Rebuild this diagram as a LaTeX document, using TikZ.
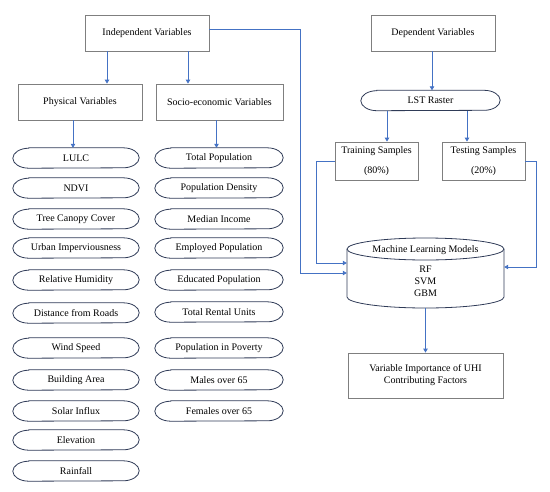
\documentclass[tikz,border=0pt]{standalone}
\usepackage{fontspec}
\setmainfont{Liberation Serif}
\usetikzlibrary{arrows.meta,calc}
\definecolor{boxgray}{HTML}{7F7F7F}
\definecolor{navy}{HTML}{2F3B57}
\definecolor{arrblue}{HTML}{4472C4}
\tikzset{
  box/.style={draw=boxgray, line width=0.8pt, inner sep=1pt, align=center, font=\fontsize{10}{12}\selectfont},
  pill/.style={inner sep=0pt, minimum height=20pt, align=center, font=\fontsize{10}{12}\selectfont},
  pillL/.style={pill, minimum width=126pt},
  pillR/.style={pill, minimum width=128pt},
  pillline/.style={draw=navy, line width=0.8pt},
  arr/.style={draw=arrblue, line width=0.8pt, -{Triangle[length=4pt,width=4.5pt]}},
  txt/.style={inner sep=0pt, align=center, font=\fontsize{10}{12}\selectfont}
}
\begin{document}
\begin{tikzpicture}[x=1pt,y=1pt]
\useasboundingbox (0,0) rectangle (550,-491);
% top boxes
\node[box, minimum width=124pt, minimum height=36pt] (iv) at (147,-33) {Independent Variables};
\node[box, minimum width=124pt, minimum height=36pt] (pv) at (80,-102) {Physical Variables};
\node[box, minimum width=127pt, minimum height=36pt] (se) at (219.5,-102) {Socio-economic Variables};
\node[box, minimum width=124pt, minimum height=36pt] (dv) at (433,-33) {Dependent Variables};
\node[pill, minimum width=139pt, minimum height=20pt] (lst) at (430.5,-100.5) {LST Raster};
\node[box, minimum width=83pt, minimum height=38pt] (tr) at (376.5,-161) {Training Samples\\[8pt](80\%)};
\node[box, minimum width=83pt, minimum height=38pt] (te) at (483.5,-161) {Testing Samples\\[8pt](20\%)};
\node[box, minimum width=155pt, minimum height=45pt] (vi) at (425.5,-375.5) {Variable Importance of UHI\\Contributing Factors};
% left pills
\foreach \nm/\y/\t in {l1/158/LULC, l2/188/NDVI, l3/219/Tree Canopy Cover, l4/248/Urban Imperviousness, l5/280/Relative Humidity, l6/313/Distance from Roads, l7/348/Wind Speed, l8/380/Building Area, l9/411/Solar Influx, l10/440/Elevation, l11/471/Rainfall}
  \node[pillL] (\nm) at (76,-\y) {\t};
\foreach \nm/\y/\t in {r1/158/Total Population, r2/188/Population Density, r3/219/Median Income, r4/248/Employed Population, r5/280/Educated Population, r6/312/Total Rental Units, r7/348/Population in Poverty, r8/380/Males over 65, r9/411/Females over 65}
  \node[pillR] (\nm) at (219,-\y) {\t};
% pill outlines
\foreach \nm in {l1,l2,l3,l4,l5,l6,l7,l8,l9,l10,l11,r1,r2,r3,r4,r5,r6,r7,r8,r9,lst}
  \draw[pillline] ([xshift=16pt]\nm.north west) -- ([xshift=-16pt]\nm.north east)
     arc[start angle=90, end angle=-90, x radius=16pt, y radius=10pt]
     -- ([xshift=16pt]\nm.south west)
     arc[start angle=270, end angle=90, x radius=16pt, y radius=10pt] -- cycle;
% cylinder
\node[inner sep=0pt, minimum width=157pt, minimum height=70pt] (ml) at (425.5,-273) {};
\draw[pillline] (425.5,-249) ellipse [x radius=78.5pt, y radius=11pt];
\draw[pillline] (347,-249) -- (347,-297) arc[start angle=180, end angle=360, x radius=78.5pt, y radius=11pt] -- (504,-249);
\node[txt] (mlt) at (425.5,-250) {Machine Learning Models};
\node[txt] (mlb) at (425.5,-281) {RF\\SVM\\GBM};
% coordinates
\coordinate (c1) at (300,-273);
\coordinate (c2) at (316,-263);
\coordinate (c3) at (536,-267);
% arrows
\draw[arr] ([xshift=-40pt]iv.south) -- ([xshift=-40pt]iv.south |- pv.north);
\draw[arr] ([xshift=41pt]iv.south) -- ([xshift=41pt]iv.south |- se.north);
\draw[arr] ([xshift=-7pt]pv.south) -- ([xshift=-7pt]pv.south |- l1.north);
\draw[arr] ([xshift=-3pt]se.south) -- ([xshift=-3pt]se.south |- r1.north);
\draw[arr] ([xshift=-1pt]dv.south) -- ([xshift=-1pt]dv.south |- lst.north);
\draw[arr] ([xshift=-43.5pt]lst.south) -- ([xshift=-43.5pt]lst.south |- tr.north);
\draw[arr] ([xshift=36.5pt]lst.south) -- ([xshift=36.5pt]lst.south |- te.north);
\draw[arr] ([yshift=4pt]iv.east) -| (c1) -- (ml.west);
\draw[arr] (tr.west) -| (c2) -- ([yshift=10pt]ml.west);
\draw[arr] (te.east) -| (c3) -- ([yshift=6pt]ml.east);
\draw[arr] (ml.south) -- (ml.south |- vi.north);
\end{tikzpicture}
\end{document}
